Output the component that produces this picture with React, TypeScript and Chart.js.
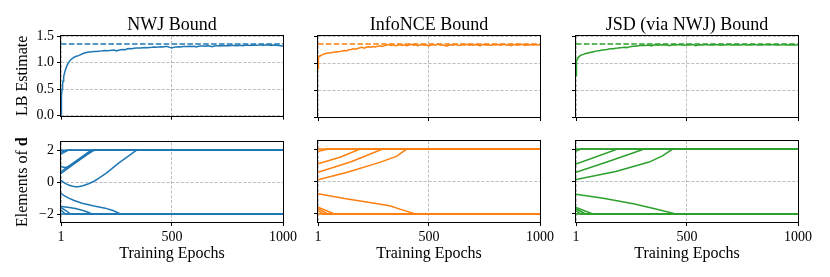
import React, { useEffect, useRef } from "react";
import { Chart, registerables } from "chart.js";
Chart.register(...registerables);

// ---------- data ----------
const EPOCHS = [
  1, 2, 3, 4, 6, 8, 10, 13, 16, 20, 25, 30, 35, 40, 50, 60, 70, 80, 90,
  100, 110, 120, 130, 140, 150, 160, 170, 180, 190, 200, 210, 220, 230, 240, 250, 260, 270, 280, 290,
  300, 310, 320, 330, 340, 350, 360, 370, 380, 390, 400, 410, 420, 430, 440, 450, 460, 470, 480, 490,
  500, 510, 520, 530, 540, 550, 560, 570, 580, 590, 600, 610, 620, 630, 640, 650, 660, 670, 680, 690,
  700, 710, 720, 730, 740, 750, 760, 770, 780, 790, 800, 810, 820, 830, 840, 850, 860, 870, 880, 890,
  900, 910, 920, 930, 940, 950, 960, 970, 980, 990, 1000,
];

const NWJ_LB = [
  0.0, 0.18, 0.3, 0.38, 0.5, 0.58, 0.65, 0.73, 0.79, 0.85, 0.91, 0.96, 1.0, 1.03, 1.07, 1.1, 1.12, 1.13, 1.15,
  1.17, 1.185, 1.195, 1.2, 1.205, 1.21, 1.208, 1.212, 1.215, 1.22,
  1.225, 1.222, 1.228, 1.232, 1.235, 1.218, 1.232, 1.24, 1.245, 1.242,
  1.26, 1.265, 1.262, 1.268, 1.272, 1.275, 1.272, 1.278, 1.282, 1.28,
  1.285, 1.288, 1.292, 1.29, 1.295, 1.298, 1.295, 1.3, 1.302, 1.286,
  1.276, 1.29, 1.295, 1.298, 1.294, 1.3, 1.304, 1.3, 1.306, 1.302,
  1.308, 1.295, 1.306, 1.31, 1.312, 1.308, 1.314, 1.31, 1.298, 1.312,
  1.316, 1.318, 1.314, 1.32, 1.316, 1.322, 1.318, 1.324, 1.32, 1.316,
  1.322, 1.326, 1.318, 1.324, 1.328, 1.32, 1.326, 1.33, 1.324, 1.328,
  1.332, 1.326, 1.33, 1.334, 1.328, 1.332, 1.326, 1.33, 1.322, 1.315,
  1.305,
];

const INFONCE_LB = [
  0.9, 1.02, 1.07, 1.1, 1.12, 1.13, 1.135, 1.14, 1.145, 1.15, 1.16, 1.17, 1.175, 1.18, 1.185, 1.19, 1.2, 1.205, 1.21,
  1.215, 1.222, 1.232, 1.228, 1.245, 1.252, 1.262, 1.255, 1.27, 1.282,
  1.29, 1.275, 1.295, 1.3, 1.292, 1.305, 1.298, 1.312, 1.318, 1.305,
  1.322, 1.33, 1.342, 1.325, 1.335, 1.318, 1.33, 1.34, 1.326, 1.338,
  1.322, 1.335, 1.345, 1.328, 1.338, 1.32, 1.332, 1.342, 1.33, 1.336,
  1.318, 1.334, 1.34, 1.328, 1.35, 1.332, 1.338, 1.322, 1.315, 1.33,
  1.338, 1.328, 1.344, 1.332, 1.326, 1.34, 1.334, 1.345, 1.33, 1.336,
  1.328, 1.34, 1.334, 1.322, 1.338, 1.344, 1.33, 1.336, 1.326, 1.34,
  1.332, 1.344, 1.33, 1.338, 1.346, 1.328, 1.336, 1.322, 1.338, 1.344,
  1.33, 1.336, 1.348, 1.326, 1.338, 1.332, 1.34, 1.328, 1.342, 1.334,
  1.338,
];

const JSD_LB = [
  0.77, 0.92, 1.0, 1.04, 1.07, 1.09, 1.1, 1.115, 1.125, 1.135, 1.145, 1.155, 1.16, 1.17, 1.18, 1.19, 1.2, 1.21, 1.22,
  1.225, 1.232, 1.24, 1.245, 1.25, 1.258, 1.262, 1.266, 1.272, 1.276,
  1.282, 1.286, 1.292, 1.285, 1.298, 1.304, 1.308, 1.312, 1.318, 1.322,
  1.326, 1.322, 1.33, 1.334, 1.318, 1.332, 1.336, 1.33, 1.334, 1.338,
  1.332, 1.336, 1.322, 1.334, 1.338, 1.332, 1.336, 1.34, 1.334, 1.33,
  1.338, 1.334, 1.34, 1.336, 1.32, 1.334, 1.338, 1.334, 1.34, 1.336,
  1.332, 1.338, 1.334, 1.34, 1.336, 1.33, 1.338, 1.334, 1.34, 1.336,
  1.332, 1.338, 1.334, 1.338, 1.332, 1.336, 1.34, 1.334, 1.338, 1.332,
  1.336, 1.34, 1.334, 1.338, 1.332, 1.336, 1.338, 1.334, 1.34, 1.336,
  1.332, 1.338, 1.334, 1.336, 1.34, 1.334, 1.338, 1.332, 1.336, 1.334,
  1.336,
];

const TRUE_MI = 1.35;

// trajectories of the elements of d: [epoch, value]
const NWJ_D1 = [[1, 2.0], [1000, 2.0]];
const NWJ_D2 = [[1, 1.88], [12, 1.95], [28, 2.0], [1000, 2.0]];
const NWJ_D3 = [[1, 1.76], [10, 1.84], [22, 1.93], [32, 2.0], [1000, 2.0]];
const NWJ_D4 = [[1, 1.0], [8, 0.95], [20, 0.93], [32, 0.96], [60, 1.2], [90, 1.48], [120, 1.76], [150, 2.0], [1000, 2.0]];
const NWJ_D5 = [[1, 0.55], [60, 1.15], [145, 2.0], [1000, 2.0]];
const NWJ_D6 = [[1, 0.66], [60, 1.24], [136, 2.0], [1000, 2.0]];
const NWJ_D7 = [[1, 0.12], [8, 0.04], [20, -0.08], [35, -0.18], [50, -0.24], [65, -0.28], [80, -0.28], [100, -0.22], [125, -0.1], [150, 0.06], [175, 0.28], [200, 0.52], [230, 0.85], [260, 1.2], [290, 1.5], [315, 1.75], [340, 2.0], [1000, 2.0]];
const NWJ_D8 = [[1, -0.7], [15, -0.85], [36, -1.0], [60, -1.15], [96, -1.32], [150, -1.5], [200, -1.63], [235, -1.78], [268, -2.0], [1000, -2.0]];
const NWJ_D9 = [[1, -1.52], [30, -1.57], [66, -1.65], [100, -1.78], [125, -1.9], [141, -2.0], [1000, -2.0]];
const NWJ_D10 = [[1, -1.6], [20, -1.75], [44, -2.0], [1000, -2.0]];
const NWJ_D11 = [[1, -1.75], [20, -2.0], [1000, -2.0]];
const NWJ_D12 = [[1, -2.0], [1000, -2.0]];

const INFONCE_D1 = [[1, 2.0], [1000, 2.0]];
const INFONCE_D2 = [[1, 1.85], [20, 1.92], [45, 2.0], [1000, 2.0]];
const INFONCE_D3 = [[1, 1.1], [100, 1.5], [190, 2.0], [1000, 2.0]];
const INFONCE_D4 = [[1, 0.57], [150, 1.22], [292, 2.0], [1000, 2.0]];
const INFONCE_D5 = [[1, 0.1], [129, 0.56], [279, 1.18], [354, 1.55], [400, 2.0], [1000, 2.0]];
const INFONCE_D6 = [[1, -0.75], [120, -1.05], [220, -1.27], [323, -1.5], [380, -1.75], [440, -2.0], [1000, -2.0]];
const INFONCE_D7 = [[1, -1.58], [75, -2.0], [1000, -2.0]];
const INFONCE_D8 = [[1, -1.68], [45, -2.0], [1000, -2.0]];
const INFONCE_D9 = [[1, -1.8], [25, -2.0], [1000, -2.0]];
const INFONCE_D10 = [[1, -2.0], [1000, -2.0]];

const JSD_D1 = [[1, 2.0], [1000, 2.0]];
const JSD_D2 = [[1, 1.88], [23, 2.0], [1000, 2.0]];
const JSD_D3 = [[1, 1.08], [188, 2.0], [1000, 2.0]];
const JSD_D4 = [[1, 0.57], [150, 1.25], [308, 2.0], [1000, 2.0]];
const JSD_D5 = [[1, 0.12], [180, 0.62], [330, 1.2], [390, 1.58], [436, 2.0], [1000, 2.0]];
const JSD_D6 = [[1, -0.78], [130, -1.05], [259, -1.38], [360, -1.7], [450, -2.0], [1000, -2.0]];
const JSD_D7 = [[1, -1.6], [76, -2.0], [1000, -2.0]];
const JSD_D8 = [[1, -1.7], [45, -2.0], [1000, -2.0]];
const JSD_D9 = [[1, -1.82], [22, -2.0], [1000, -2.0]];
const JSD_D10 = [[1, -2.0], [1000, -2.0]];

const X_TICKS = [1, 500, 1000];
const LB_TICKS = [0, 0.5, 1.0, 1.5];
const D_TICKS = [-2, 0, 2];

const TITLES = ["NWJ Bound", "InfoNCE Bound", "JSD (via NWJ) Bound"];
const COLORS = ["#1f77b4", "#ff7f0e", "#2ca02c"];
const X_LABEL = "Training Epochs";
const Y_LABEL_TOP = "LB Estimate";
const Y_LABEL_BOTTOM_A = "Elements of ";
const Y_LABEL_BOTTOM_B = "d";

const LB_SERIES = [NWJ_LB, INFONCE_LB, JSD_LB];
const D_SERIES = [
  [NWJ_D1, NWJ_D2, NWJ_D3, NWJ_D4, NWJ_D5, NWJ_D6, NWJ_D7, NWJ_D8, NWJ_D9, NWJ_D10, NWJ_D11, NWJ_D12],
  [INFONCE_D1, INFONCE_D2, INFONCE_D3, INFONCE_D4, INFONCE_D5, INFONCE_D6, INFONCE_D7, INFONCE_D8, INFONCE_D9, INFONCE_D10],
  [JSD_D1, JSD_D2, JSD_D3, JSD_D4, JSD_D5, JSD_D6, JSD_D7, JSD_D8, JSD_D9, JSD_D10],
];

// ---------- layout ----------
const FAMILY = "'Liberation Serif', 'Times New Roman', serif";
const PLOT_LEFTS = [61, 318, 576];
const PLOT_W = 222;
const PLOT_H = 81;
const Y_AXIS_W = 60;
const RIGHT_PAD = 20;
const TOP_ROW = { canvasTop: 0, padTop: 36, xAxisH: 10 };
const BOT_ROW = { canvasTop: 131, padTop: 10, xAxisH: 55 };

const framePlugin = {
  id: "frame",
  afterDatasetsDraw(chart: any) {
    const { ctx, chartArea } = chart;
    ctx.save();
    ctx.strokeStyle = "#000";
    ctx.lineWidth = 1;
    const l = Math.round(chartArea.left) - 0.5;
    const t = Math.round(chartArea.top) - 0.5;
    const r = Math.round(chartArea.right) + 0.5;
    const b = Math.round(chartArea.bottom) + 0.5;
    ctx.strokeRect(l, t, r - l, b - t);
    ctx.restore();
  },
};

const richYTitle = {
  id: "richYTitle",
  afterDraw(chart: any, _args: any, opts: any) {
    if (!opts || !opts.show) return;
    const { ctx, chartArea } = chart;
    const size = 16;
    ctx.save();
    ctx.translate(opts.x, (chartArea.top + chartArea.bottom) / 2);
    ctx.rotate(-Math.PI / 2);
    ctx.textBaseline = "middle";
    ctx.textAlign = "left";
    ctx.fillStyle = "#000";
    ctx.font = `${size}px ${FAMILY}`;
    const wa = ctx.measureText(Y_LABEL_BOTTOM_A).width;
    ctx.font = `bold ${size}px ${FAMILY}`;
    const wb = ctx.measureText(Y_LABEL_BOTTOM_B).width;
    const start = -(wa + wb) / 2;
    ctx.font = `${size}px ${FAMILY}`;
    ctx.fillText(Y_LABEL_BOTTOM_A, start, 0);
    ctx.font = `bold ${size}px ${FAMILY}`;
    ctx.fillText(Y_LABEL_BOTTOM_B, start + wa, 0);
    ctx.restore();
  },
};

const fmtMinus = (v: number) => (v < 0 ? "\u2212" + Math.abs(v) : String(v));

function makeChart(canvas: HTMLCanvasElement, row: number, col: number) {
  const color = COLORS[col];
  const rowCfg = row === 0 ? TOP_ROW : BOT_ROW;
  let datasets: any[];
  if (row === 0) {
    const lb = LB_SERIES[col];
    datasets = [
      {
        data: EPOCHS.map((x, i) => ({ x, y: lb[i] })),
        borderColor: color,
        borderWidth: 1.5,
        pointRadius: 0,
      },
      {
        data: [{ x: 1, y: TRUE_MI }, { x: 1000, y: TRUE_MI }],
        borderColor: color,
        borderWidth: 1.5,
        borderDash: [5.5, 2.4],
        pointRadius: 0,
      },
    ];
  } else {
    datasets = D_SERIES[col].map((traj) => ({
      data: traj.map((p) => ({ x: p[0], y: p[1] })),
      borderColor: color,
      borderWidth: 1.5,
      pointRadius: 0,
    }));
  }

  const gridCommon = {
    color: "#b0b0b0",
    lineWidth: 0.8,
    drawTicks: true,
    tickLength: 4,
    tickColor: "#000",
    tickWidth: 1,
    tickBorderDash: [],
  };
  const borderCommon = { display: false, dash: [3.2, 1.6] };

  const yTicks = row === 0 ? LB_TICKS : D_TICKS;

  return new Chart(canvas, {
    type: "line",
    data: { datasets },
    plugins: [framePlugin, richYTitle],
    options: {
      responsive: false,
      animation: false,
      devicePixelRatio: 1,
      events: [],
      layout: { padding: { left: 0, right: RIGHT_PAD, top: row === 0 ? 0 : rowCfg.padTop, bottom: 0 } },
      plugins: {
        legend: { display: false },
        tooltip: { enabled: false },
        title: {
          display: row === 0,
          text: TITLES[col],
          fullSize: false,
          color: "#000",
          font: { family: FAMILY, size: 18, weight: "normal" },
          padding: { top: 14, bottom: 0.4 },
        },
        richYTitle: { show: row === 1 && col === 0, x: 21.6 },
      } as any,
      scales: {
        x: {
          type: "linear",
          min: 1,
          max: 1000,
          afterBuildTicks: (s: any) => {
            s.ticks = X_TICKS.map((v) => ({ value: v }));
          },
          afterFit: (s: any) => {
            s.height = rowCfg.xAxisH;
          },
          grid: gridCommon,
          border: borderCommon,
          ticks: {
            display: row === 1,
            autoSkip: false,
            maxRotation: 0,
            padding: 3,
            color: "#000",
            font: { family: FAMILY, size: 14 },
            callback: (v: any) => String(v),
          },
          title: {
            display: row === 1,
            text: X_LABEL,
            color: "#000",
            font: { family: FAMILY, size: 16 },
            padding: { top: 0, bottom: 13.6 },
          },
        },
        y: {
          type: "linear",
          min: row === 0 ? 0 : -2.5,
          max: row === 0 ? 1.5 : 2.5,
          afterBuildTicks: (s: any) => {
            s.ticks = yTicks.map((v) => ({ value: v }));
          },
          afterFit: (s: any) => {
            s.width = Y_AXIS_W;
          },
          grid: gridCommon,
          border: borderCommon,
          ticks: {
            display: col === 0,
            autoSkip: false,
            padding: 3,
            color: "#000",
            font: { family: FAMILY, size: 14 },
            callback: (v: any) => (row === 0 ? Number(v).toFixed(1) : fmtMinus(Number(v))),
          },
          title: {
            display: row === 0 && col === 0,
            text: Y_LABEL_TOP,
            color: "#000",
            font: { family: FAMILY, size: 16 },
            padding: { top: 12, bottom: 0 },
          },
        },
      },
    } as any,
  });
}

const PANELS = [0, 1].flatMap((row) => [0, 1, 2].map((col) => ({ row, col })));

export default function App() {
  const refs = useRef<(HTMLCanvasElement | null)[]>([]);
  useEffect(() => {
    const charts = PANELS.map((p, i) => makeChart(refs.current[i] as HTMLCanvasElement, p.row, p.col));
    return () => charts.forEach((c) => c.destroy());
  }, []);

  return (
    <div style={{ position: "absolute", left: 0, top: 0, width: 830, height: 277, background: "#fff", overflow: "hidden" }}>
      {PANELS.map((p, i) => {
        const rowCfg = p.row === 0 ? TOP_ROW : BOT_ROW;
        const w = Y_AXIS_W + PLOT_W + RIGHT_PAD;
        const h = rowCfg.padTop + PLOT_H + rowCfg.xAxisH;
        return (
          <canvas
            key={i}
            ref={(el) => {
              refs.current[i] = el;
            }}
            width={w}
            height={h}
            style={{ position: "absolute", left: PLOT_LEFTS[p.col] - Y_AXIS_W, top: rowCfg.canvasTop, width: w, height: h }}
          />
        );
      })}
    </div>
  );
}
